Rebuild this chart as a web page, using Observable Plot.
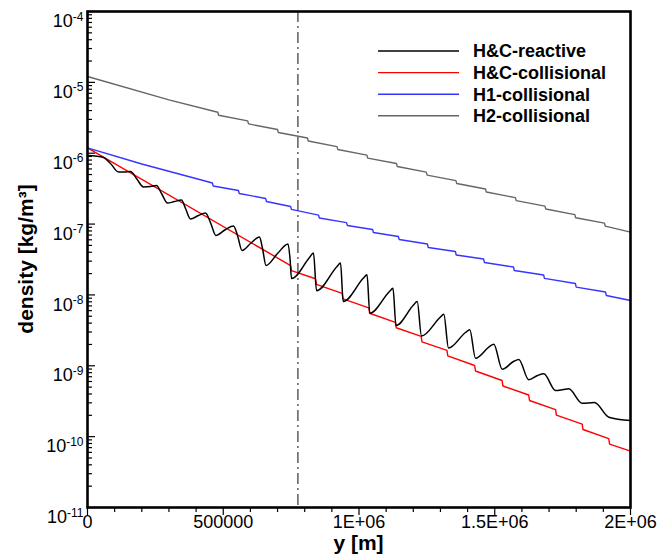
<!DOCTYPE html>
<html><head><meta charset="utf-8">
<script src="https://cdn.jsdelivr.net/npm/d3@7"></script>
<script src="https://cdn.jsdelivr.net/npm/@observablehq/plot@0.6"></script>
<style>body{margin:0;background:#fff} svg{display:block}</style>
</head><body><div id="chart"></div>
<script>
// ---- data ----
const seriesNames = ["H&C-reactive", "H&C-collisional", "H1-collisional", "H2-collisional"];
const seriesColors = ["#000000", "#ff0000", "#3535ff", "#666666"];

const reactiveX = [0, 29500, 58900, 84700, 114200, 136300, 158400, 180500, 206300, 232000, 254100, 272600, 294700, 320400, 346200, 361000, 379400, 408800, 434600, 453000, 473300, 508300, 537800, 552500, 569100, 600400, 633500, 644600, 657500, 699800, 738500, 745900, 751400, 817700, 832400, 843500, 919000, 931900, 941800, 1016600, 1029500, 1039800, 1112300, 1125200, 1136300, 1200700, 1214400, 1230200, 1298300, 1312300, 1329700, 1392300, 1408100, 1429100, 1480700, 1496500, 1527400, 1569100, 1588600, 1625400, 1657500, 1680700, 1723800, 1753200, 1772700, 1822100, 1867400, 1920100, 2000000];
const reactiveY = [9.28e-7, 9.13e-7, 8.70e-7, 7.16e-7, 5.43e-7, 5.43e-7, 5.52e-7, 4.40e-7, 3.34e-7, 3.39e-7, 3.50e-7, 2.70e-7, 1.98e-7, 2.08e-7, 2.19e-7, 1.66e-7, 1.18e-7, 1.32e-7, 1.43e-7, 1.05e-7, 6.90e-8, 8.38e-8, 9.39e-8, 6.90e-8, 4.24e-8, 5.32e-8, 6.57e-8, 4.52e-8, 2.60e-8, 3.84e-8, 5.23e-8, 3.27e-8, 1.70e-8, 3.38e-8, 3.91e-8, 1.15e-8, 2.52e-8, 2.82e-8, 8.08e-9, 1.73e-8, 1.92e-8, 5.52e-9, 1.12e-8, 1.24e-8, 3.70e-9, 7.21e-9, 8.08e-9, 2.63e-9, 4.80e-9, 5.33e-9, 1.78e-9, 2.95e-9, 3.22e-9, 1.28e-9, 1.87e-9, 2.02e-9, 8.95e-10, 1.15e-9, 1.23e-9, 6.34e-10, 7.29e-10, 7.71e-10, 4.48e-10, 4.63e-10, 4.73e-10, 2.96e-10, 3.03e-10, 1.88e-10, 1.69e-10];

const hcCollX = [0, 748000, 751000, 840000, 843000, 938000, 941000, 1036000, 1039000, 1134000, 1137000, 1229000, 1232000, 1324000, 1327000, 1426000, 1429000, 1527000, 1530000, 1625000, 1628000, 1724000, 1727000, 1822000, 1825000, 1920000, 1923000, 2000000];
const hcCollY = [1.19e-6, 2.60e-8, 2.20e-8, 1.69e-8, 1.41e-8, 1.05e-8, 8.82e-9, 6.58e-9, 5.51e-9, 4.11e-9, 3.44e-9, 2.60e-9, 2.17e-9, 1.65e-9, 1.38e-9, 1.01e-9, 8.44e-10, 6.20e-10, 5.19e-10, 3.87e-10, 3.24e-10, 2.41e-10, 2.01e-10, 1.50e-10, 1.26e-10, 9.38e-11, 7.85e-11, 6.23e-11];

const h1X = [0, 200000, 416000, 460000, 463000, 556000, 559000, 656000, 659000, 748000, 751000, 851000, 854000, 954000, 957000, 1050000, 1053000, 1145000, 1148000, 1252000, 1255000, 1355000, 1358000, 1459000, 1462000, 1569000, 1572000, 1680000, 1683000, 1797000, 1800000, 1908000, 1911000, 2000000];
const h1Y = [1.19e-6, 7.04e-7, 4.22e-7, 3.80e-7, 3.45e-7, 2.98e-7, 2.70e-7, 2.30e-7, 2.08e-7, 1.77e-7, 1.61e-7, 1.34e-7, 1.22e-7, 1.05e-7, 9.55e-8, 8.38e-8, 7.60e-8, 6.68e-8, 6.06e-8, 5.23e-8, 4.67e-8, 4.10e-8, 3.66e-8, 3.21e-8, 2.87e-8, 2.48e-8, 2.21e-8, 1.91e-8, 1.71e-8, 1.45e-8, 1.29e-8, 1.10e-8, 9.81e-9, 8.35e-9];

const h2X = [0, 300000, 480000, 483000, 590000, 593000, 700000, 703000, 810000, 813000, 919000, 922000, 1029000, 1032000, 1138000, 1141000, 1248000, 1251000, 1357000, 1360000, 1466000, 1469000, 1576000, 1579000, 1685000, 1688000, 1795000, 1798000, 1904000, 1907000, 2000000];
const h2Y = [1.21e-5, 5.67e-6, 3.78e-6, 3.43e-6, 2.86e-6, 2.59e-6, 2.16e-6, 1.96e-6, 1.64e-6, 1.49e-6, 1.24e-6, 1.13e-6, 9.41e-7, 8.53e-7, 7.16e-7, 6.49e-7, 5.41e-7, 4.91e-7, 4.11e-7, 3.73e-7, 3.12e-7, 2.83e-7, 2.36e-7, 2.14e-7, 1.79e-7, 1.63e-7, 1.36e-7, 1.23e-7, 1.03e-7, 9.36e-8, 7.70e-8];

const markerX = [775000];

const xTicks = [0, 500000, 1000000, 1500000, 2000000];
const xTickLabels = ["0", "500000", "1E+06", "1.5E+06", "2E+06"];
const xMinorTicks = [100000, 200000, 300000, 400000, 600000, 700000, 800000, 900000, 1100000, 1200000, 1300000, 1400000, 1600000, 1700000, 1800000, 1900000];
const yTicks = [1e-11, 1e-10, 1e-9, 1e-8, 1e-7, 1e-6, 1e-5, 1e-4];
const yTickLabels = ["-11", "-10", "-9", "-8", "-7", "-6", "-5", "-4"];
const yMinorTicks = [];
for (let k = -11; k < -4; k++) for (let m = 2; m <= 9; m++) yMinorTicks.push(+(m + "e" + k));

const xLabel = "y [m]";
const yLabel = "density [kg/m³]";

// ---- build table ----
function toRows(name, xs, ys) { return xs.map((x, i) => ({series: name, x, y: ys[i]})); }
const reactiveRows = toRows(seriesNames[0], reactiveX, reactiveY);
const otherRows = [
  ...toRows(seriesNames[1], hcCollX, hcCollY),
  ...toRows(seriesNames[2], h1X, h1Y),
  ...toRows(seriesNames[3], h2X, h2Y)
];

const FONT = "'Liberation Sans', Arial, Helvetica, sans-serif";

const plot = Plot.plot({
  width: 657, height: 557,
  marginLeft: 87, marginRight: 27, marginTop: 11, marginBottom: 50,
  style: {fontFamily: FONT, background: "#fff", color: "#000", overflow: "visible"},
  x: {domain: [0, 2000000]},
  y: {type: "log", domain: [1e-11, 1e-4]},
  color: {domain: seriesNames, range: seriesColors},
  marks: [
    Plot.axisX({ticks: xMinorTicks, tickSize: 5, tickFormat: () => "", label: null, strokeWidth: 1.2}),
    Plot.axisX({ticks: xTicks, tickSize: 8, tickPadding: 0, tickFormat: d => xTickLabels[xTicks.indexOf(d)], fontSize: 18, label: null, strokeWidth: 1.2}),
    Plot.axisY({ticks: yMinorTicks, tickSize: -5, tickFormat: () => "", label: null, strokeWidth: 1.2}),
    Plot.axisY({ticks: yTicks, tickSize: -8, tickPadding: 12, tickFormat: d => "10^" + yTickLabels[yTicks.indexOf(d)], fontSize: 18, label: null, strokeWidth: 1.2}),
    Plot.ruleX(markerX, {stroke: "#444", strokeWidth: 1.3, strokeDasharray: "11,4,2,4"}),
    Plot.line(otherRows, {x: "x", y: "y", z: "series", stroke: "series", strokeWidth: 1.4, curve: "linear"}),
    Plot.line(reactiveRows, {x: "x", y: "y", stroke: "series", strokeWidth: 1.5, curve: "monotone-x"}),
    Plot.frame({stroke: "#000", strokeWidth: 2.6})
  ]
});

document.getElementById("chart").appendChild(plot);
const svg = plot.tagName.toLowerCase() === "svg" ? plot : plot.querySelector("svg");
const NS = "http://www.w3.org/2000/svg";

// superscript exponents on y tick labels
svg.querySelectorAll('g[aria-label="y-axis tick label"] text').forEach(t => {
  const s = t.textContent;
  if (!s.startsWith("10^")) return;
  const exp = s.slice(3);
  t.textContent = "";
  const base = document.createElementNS(NS, "tspan");
  base.textContent = "10";
  const sup = document.createElementNS(NS, "tspan");
  sup.textContent = exp;
  sup.setAttribute("dy", "-0.55em");
  sup.setAttribute("font-size", "12");
  t.appendChild(base); t.appendChild(sup);
  t.setAttribute("dy", "0.55em");
});

// axis titles
const xl = document.createElementNS(NS, "text");
xl.setAttribute("x", 358.5); xl.setAttribute("y", 550);
xl.setAttribute("text-anchor", "middle");
xl.setAttribute("font-family", FONT); xl.setAttribute("font-weight", "bold"); xl.setAttribute("font-size", "21");
xl.textContent = xLabel;
svg.appendChild(xl);

const yl = document.createElementNS(NS, "text");
yl.setAttribute("transform", "translate(33,259) rotate(-90)");
yl.setAttribute("text-anchor", "middle");
yl.setAttribute("font-family", FONT); yl.setAttribute("font-weight", "bold"); yl.setAttribute("font-size", "21");
yl.textContent = yLabel;
svg.appendChild(yl);

// legend
const lg = document.createElementNS(NS, "g");
lg.setAttribute("text-anchor", "start");
seriesNames.forEach((name, i) => {
  const yy = 51 + i * 21.6;
  const ln = document.createElementNS(NS, "line");
  ln.setAttribute("x1", 378); ln.setAttribute("x2", 459);
  ln.setAttribute("y1", yy); ln.setAttribute("y2", yy);
  ln.setAttribute("stroke", seriesColors[i]); ln.setAttribute("stroke-width", 1.4);
  lg.appendChild(ln);
  const tx = document.createElementNS(NS, "text");
  tx.setAttribute("x", 473); tx.setAttribute("y", yy + 6.4);
  tx.setAttribute("text-anchor", "start");
  tx.setAttribute("font-family", FONT); tx.setAttribute("font-weight", "bold"); tx.setAttribute("font-size", "18");
  tx.textContent = name;
  lg.appendChild(tx);
});
svg.appendChild(lg);
</script>
</body></html>
